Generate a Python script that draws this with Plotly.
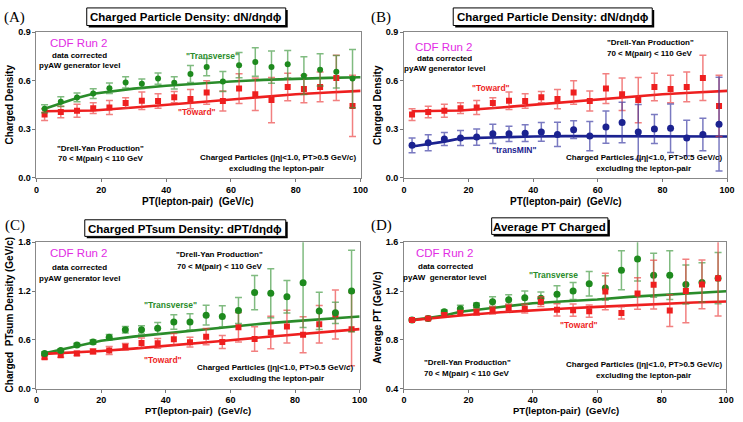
import plotly.graph_objects as go

W, H = 743, 422

# ---------------- data ----------------
pt = [2.5, 7.5, 12.5, 17.5, 22.5, 27.5, 32.5, 37.5, 42.5, 47.5,
      52.5, 57.5, 62.5, 67.5, 72.5, 77.5, 82.5, 87.5, 92.5, 97.5]

# (A)/(B) charged particle density
dens_trans = [0.427, 0.471, 0.497, 0.521, 0.554, 0.590, 0.582, 0.614, 0.588, 0.642,
              0.685, 0.596, 0.697, 0.717, 0.685, 0.703, 0.632, 0.668, 0.656, 0.614]
dens_trans_err = [0.025, 0.030, 0.027, 0.030, 0.032, 0.035, 0.030, 0.035, 0.038, 0.053,
                  0.053, 0.062, 0.078, 0.088, 0.100, 0.085, 0.117, 0.100, 0.100, 0.180]
dens_toward = [0.391, 0.407, 0.415, 0.431, 0.435, 0.463, 0.477, 0.475, 0.499, 0.487,
               0.528, 0.475, 0.552, 0.517, 0.481, 0.562, 0.550, 0.562, 0.618, 0.445]
dens_toward_err = [0.037, 0.035, 0.040, 0.033, 0.043, 0.033, 0.054, 0.045, 0.035, 0.060,
                   0.073, 0.062, 0.092, 0.100, 0.140, 0.085, 0.085, 0.092, 0.140, 0.190]
dens_transmin = [0.201, 0.217, 0.240, 0.246, 0.252, 0.272, 0.272, 0.276, 0.284, 0.268,
                 0.298, 0.258, 0.314, 0.342, 0.284, 0.302, 0.306, 0.246, 0.268, 0.332]
dens_transmin_err = [0.046, 0.050, 0.040, 0.046, 0.050, 0.060, 0.047, 0.052, 0.058, 0.075,
                     0.055, 0.090, 0.100, 0.125, 0.170, 0.090, 0.150, 0.110, 0.100, 0.290]

curve_x = [2.5, 7.5, 12.5, 17.5, 30, 40, 50, 60, 70, 80, 90, 100]
dens_trans_th = [0.427, 0.461, 0.494, 0.520, 0.552, 0.570, 0.584, 0.596, 0.606, 0.613, 0.618, 0.622]
dens_toward_th = [0.412, 0.413, 0.414, 0.416, 0.435, 0.452, 0.470, 0.487, 0.503, 0.517, 0.528, 0.538]
dens_transmin_th = [0.194, 0.208, 0.224, 0.244, 0.252, 0.256, 0.258, 0.258, 0.258, 0.257, 0.257, 0.256]

# (C) PTsum density
curve_x2 = [2.5, 10, 20, 30, 40, 50, 60, 70, 80, 90, 100]
ptsum_trans = [0.434, 0.470, 0.538, 0.575, 0.631, 0.723, 0.723, 0.743, 0.820, 0.820,
               0.904, 0.888, 0.960, 1.181, 1.173, 1.129, 1.302, 0.956, 0.932, 1.201]
ptsum_trans_err = [0.020, 0.020, 0.020, 0.025, 0.035, 0.040, 0.050, 0.070, 0.090, 0.100,
                   0.120, 0.130, 0.160, 0.210, 0.300, 0.200, 0.550, 0.230, 0.130, 0.500]
ptsum_toward = [0.386, 0.410, 0.434, 0.458, 0.470, 0.514, 0.563, 0.558, 0.607, 0.571,
                0.639, 0.575, 0.755, 0.611, 0.691, 0.763, 0.663, 0.791, 0.912, 0.731]
ptsum_toward_err = [0.020, 0.025, 0.025, 0.030, 0.050, 0.040, 0.060, 0.060, 0.070, 0.060,
                    0.100, 0.080, 0.180, 0.150, 0.200, 0.200, 0.220, 0.230, 0.300, 0.450]
ptsum_trans_th = [0.436, 0.500, 0.590, 0.640, 0.680, 0.725, 0.765, 0.800, 0.830, 0.860, 0.888]
ptsum_toward_th = [0.428, 0.440, 0.464, 0.492, 0.524, 0.560, 0.596, 0.632, 0.668, 0.700, 0.732]

# (D) average PT
avg_trans = [0.963, 0.976, 1.030, 1.054, 1.083, 1.113, 1.129, 1.145, 1.142, 1.174,
             1.201, 1.260, 1.225, 1.370, 1.463, 1.330, 1.330, 1.254, 1.271, 1.305]
avg_trans_err = [0.005, 0.010, 0.015, 0.030, 0.020, 0.040, 0.040, 0.055, 0.050, 0.070,
                 0.070, 0.100, 0.100, 0.160, 0.180, 0.180, 0.200, 0.160, 0.160, 0.210]
avg_toward = [0.963, 0.976, 1.003, 1.021, 1.027, 1.043, 1.062, 1.056, 1.113, 1.046,
              1.043, 1.035, 1.196, 1.021, 1.180, 1.252, 1.040, 1.201, 1.254, 1.305]
avg_toward_err = [0.008, 0.010, 0.015, 0.020, 0.025, 0.030, 0.030, 0.035, 0.040, 0.050,
                  0.050, 0.050, 0.150, 0.050, 0.130, 0.200, 0.130, 0.260, 0.200, 0.310]
curve_x3 = [2.5, 7.5, 12.5, 17.5, 30, 40, 50, 60, 70, 80, 90, 100]
avg_trans_th = [0.965, 0.978, 1.000, 1.030, 1.070, 1.100, 1.117, 1.131, 1.152, 1.169, 1.185, 1.198]
avg_toward_th = [0.962, 0.975, 0.988, 1.000, 1.026, 1.043, 1.057, 1.070, 1.083, 1.096, 1.106, 1.115]

# ---------------- styles ----------------
GREEN = "#1e8a1e"
GREEN_E = "rgba(60,150,60,0.65)"
RED = "#ee1f1f"
RED_E = "rgba(235,60,60,0.65)"
BLUE = "#1b2290"
BLUE_E = "rgba(50,50,160,0.65)"

fig = go.Figure()


def curve(xs, ys, color, ax):
    fig.add_trace(go.Scatter(x=xs, y=ys, mode="lines", line=dict(color=color, width=2.6),
                             xaxis="x" + ax, yaxis="y" + ax, showlegend=False, hoverinfo="skip"))


def points(ys, errs, color, ecolor, symbol, size, ax):
    fig.add_trace(go.Scatter(x=pt, y=ys, mode="markers",
                             marker=dict(color=color, symbol=symbol, size=size),
                             error_y=dict(type="data", array=errs, color=ecolor, thickness=1.5, width=3.5),
                             xaxis="x" + ax, yaxis="y" + ax, showlegend=False))


# A
curve(curve_x, dens_trans_th, "#2a8c2a", "")
curve(curve_x, dens_toward_th, RED, "")
points(dens_toward, dens_toward_err, RED, RED_E, "square", 6, "")
points(dens_trans, dens_trans_err, GREEN, GREEN_E, "circle", 6, "")
# B
curve(curve_x, dens_toward_th, RED, "2")
curve(curve_x, dens_transmin_th, BLUE, "2")
points(dens_toward, dens_toward_err, RED, RED_E, "square", 6, "2")
points(dens_transmin, dens_transmin_err, BLUE, BLUE_E, "circle", 7, "2")
# C
curve(curve_x2, ptsum_trans_th, "#2a8c2a", "3")
curve(curve_x2, ptsum_toward_th, RED, "3")
points(ptsum_toward, ptsum_toward_err, RED, RED_E, "square", 6, "3")
points(ptsum_trans, ptsum_trans_err, GREEN, GREEN_E, "circle", 7, "3")
# D
curve(curve_x3, avg_trans_th, "#2a8c2a", "4")
curve(curve_x3, avg_toward_th, RED, "4")
points(avg_trans, avg_trans_err, GREEN, GREEN_E, "circle", 7, "4")
points(avg_toward, avg_toward_err, RED, RED_E, "square", 6, "4")


def fx(p):
    return p / W


def fy(p):
    return 1 - p / H


axfont = dict(family="Arial", size=9, color="black", weight="bold")


def xax(l, r, anchor):
    return dict(domain=[fx(l), fx(r)], range=[0, 100], tickvals=[0, 20, 40, 60, 80, 100],
                ticks="outside", ticklen=3, tickcolor="#777", showline=True, linecolor="#888",
                mirror=True, showgrid=False, zeroline=False, tickfont=axfont, anchor=anchor, fixedrange=True)


def yax(t, b, rng, tv, anchor):
    return dict(domain=[fy(b), fy(t)], range=rng, tickvals=tv, tickformat=".1f",
                ticks="outside", ticklen=3, tickcolor="#777", showline=True, linecolor="#888",
                mirror=True, showgrid=False, zeroline=False, tickfont=axfont, anchor=anchor, fixedrange=True)


fig.update_layout(
    width=W, height=H, margin=dict(l=0, r=0, t=0, b=0),
    paper_bgcolor="white", plot_bgcolor="white", showlegend=False,
    xaxis=xax(34, 363, "y"), yaxis=yax(28, 177, [0, 0.9], [0, 0.3, 0.6, 0.9], "x"),
    xaxis2=xax(407, 735, "y2"), yaxis2=yax(28, 177, [0, 0.9], [0, 0.3, 0.6, 0.9], "x2"),
    xaxis3=xax(34, 362, "y3"), yaxis3=yax(243, 393, [0, 1.8], [0, 0.6, 1.2, 1.8], "x3"),
    xaxis4=xax(407, 734, "y4"), yaxis4=yax(243, 393, [0.4, 1.6], [0.4, 0.8, 1.2, 1.6], "x4"),
)

anns = []
shapes = []


def ann(text, px, py, size=8, color="black", weight="bold", xanchor="center", family="Arial", angle=0):
    anns.append(dict(text=text, x=fx(px), y=fy(py), xref="paper", yref="paper", showarrow=False,
                     xanchor=xanchor, yanchor="middle", textangle=angle,
                     font=dict(family=family, size=size, color=color, weight=weight)))


def title_box(text, l, r, t, b):
    shapes.append(dict(type="rect", xref="paper", yref="paper", x0=fx(l + 2), x1=fx(r + 2),
                       y0=fy(b + 2), y1=fy(t + 2), fillcolor="black", line=dict(width=0)))
    shapes.append(dict(type="rect", xref="paper", yref="paper", x0=fx(l), x1=fx(r),
                       y0=fy(b), y1=fy(t), fillcolor="white", line=dict(color="black", width=1)))
    ann(text, (l + r) / 2, (t + b) / 2 + 0.5, size=11.5)


title_box("Charged Particle Density: dN/dηdϕ", 85, 287, 3, 21)
title_box("Charged Particle Density: dN/dηdϕ", 457, 659, 3, 21)
title_box("Charged PTsum Density: dPT/dηdϕ", 83, 287, 220, 237)
title_box("Average PT Charged", 496, 614, 218, 235)

for lab, px, py in [("(A)", 12, 13), ("(B)", 384, 13), ("(C)", 12, 226), ("(D)", 384, 226)]:
    ann(lab, px, py, size=15, family="Times New Roman, Liberation Serif, serif", weight="normal")

MAG = "#e22be4"
small = 8
# A
ann("CDF Run 2", 77, 39, size=11.5, color=MAG, weight="normal")
ann("data corrected", 78, 52, size=small)
ann("pyAW generator level", 78, 62, size=small)
ann('"Transverse"', 213, 52, size=8.5, color="#2a8c2a")
ann('"Toward"', 197, 110, size=8.5, color=RED)
ann('"Drell-Yan Production"', 99, 147, size=small)
ann("70 < M(pair) < 110 GeV", 99, 157, size=small)
ann("Charged Particles (|η|<1.0, PT>0.5 GeV/c)", 360, 156, size=small, xanchor="right")
ann("excluding the lepton-pair", 278, 167, size=small)
# B
ann("CDF Run 2", 448, 43, size=11.5, color=MAG, weight="normal")
ann("data corrected", 448, 55, size=small)
ann("pyAW generator level", 448, 65, size=small)
ann('"Drell-Yan Production"', 657, 38, size=small)
ann("70 < M(pair) < 110 GeV", 657, 50, size=small)
ann('"Toward"', 495, 85, size=8.5, color=RED)
ann('"transMIN"', 519, 149, size=8.5, color=BLUE)
ann("Charged Particles (|η|<1.0, PT>0.5 GeV/c)", 732, 156, size=small, xanchor="right")
ann("excluding the lepton-pair", 650, 167, size=small)
# C
ann("CDF Run 2", 77, 254, size=11.5, color=MAG, weight="normal")
ann("data corrected", 78, 269, size=small)
ann("pyAW generator level", 78, 280, size=small)
ann('"Drell-Yan Production"', 220, 256, size=small)
ann("70 < M(pair) < 110 GeV", 220, 268, size=small)
ann('"Transverse"', 170, 307, size=8.5, color="#2a8c2a")
ann('"Toward"', 162, 364, size=8.5, color=RED)
ann("Charged Particles (|η|<1.0, PT>0.5 GeV/c)", 357, 371, size=small, xanchor="right")
ann("excluding the lepton-pair", 278, 383, size=small)
# D
ann("CDF Run 2", 449, 254, size=11.5, color=MAG, weight="normal")
ann("data corrected", 449, 268, size=small)
ann("pyAW  generator level", 449, 279, size=small)
ann('"Transverse', 559, 277, size=8.5, color="#2a8c2a")
ann('"Toward"', 585, 328, size=8.5, color=RED)
ann('"Drell-Yan Production"', 471, 366, size=small)
ann("70 < M(pair) < 110 GeV", 471, 377, size=small)
ann("Charged Particles (|η|<1.0, PT>0.5 GeV/c)", 732, 368, size=small, xanchor="right")
ann("excluding the lepton-pair", 650, 379, size=small)

# axis titles
for px, py, sz in [(198, 201, 10), (571, 201, 10), (198, 415, 9.5), (571, 415, 9.5)]:
    ann("PT(lepton-pair)  (GeV/c)", px, py, size=sz)
ann("Charged Density", 7, 102, size=10, angle=-90)
ann("Charged Density", 380, 102, size=10, angle=-90)
ann("Charged  PTsum Density (GeV/c)", 7, 317, size=10, angle=-90)
ann("Average PT (GeV/c)", 380, 320, size=10, angle=-90)

fig.update_layout(annotations=anns, shapes=shapes)
fig.write_html("out.html")
